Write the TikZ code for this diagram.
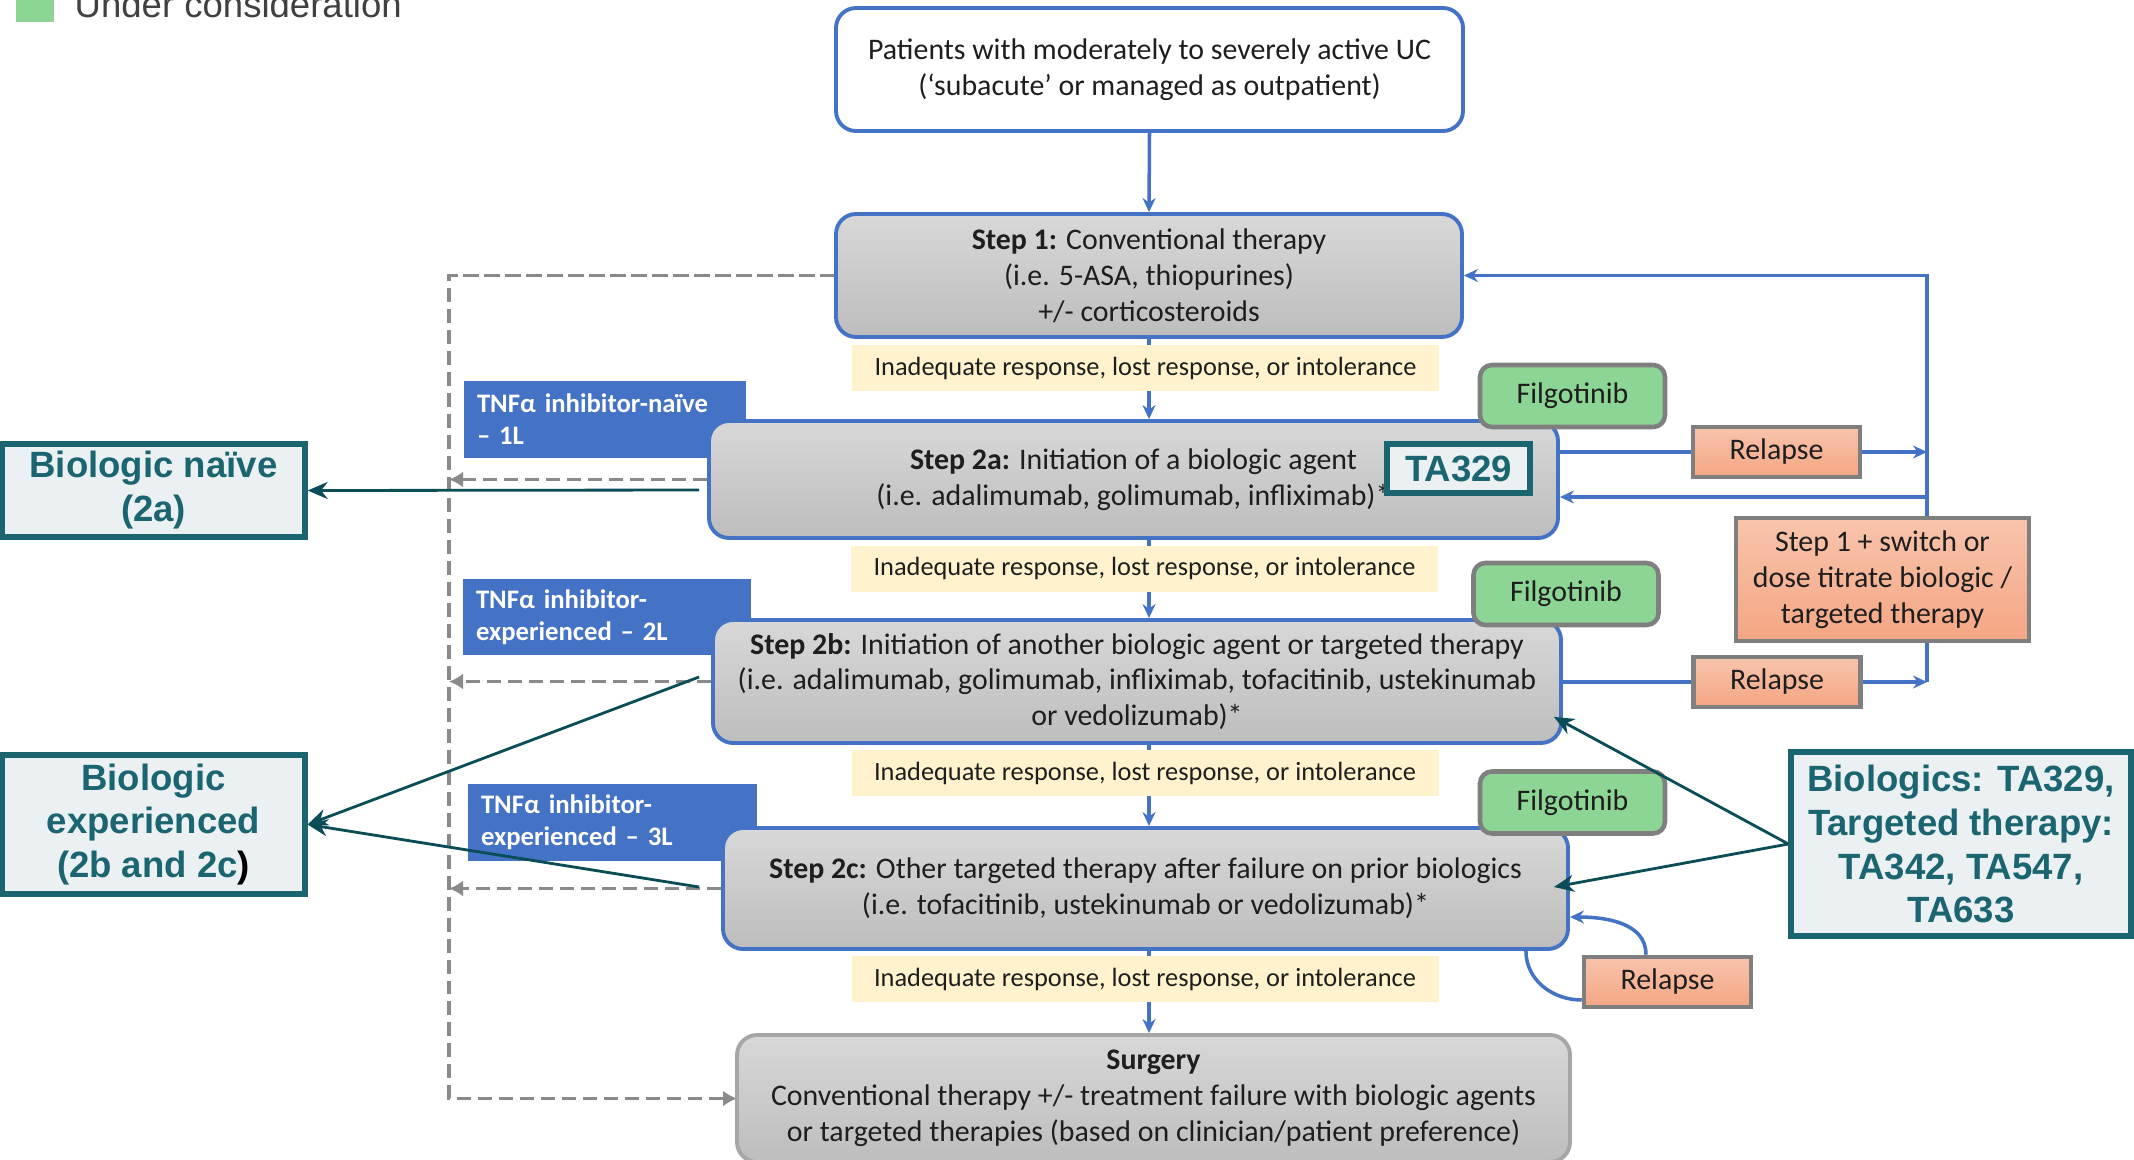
\documentclass[tikz,border=0pt]{standalone}
\usepackage{fontspec}
\setmainfont{Carlito}
\newfontfamily\arialfont{Liberation Sans}
\usetikzlibrary{arrows.meta}

\definecolor{ucblue}{HTML}{4472C4}
\definecolor{stepgraytop}{HTML}{D8D8D8}
\definecolor{stepgraybot}{HTML}{BDBDBD}
\definecolor{surgerygray}{HTML}{A6A6A6}
\definecolor{respyellow}{HTML}{FFF2CC}
\definecolor{filggreen}{HTML}{8DD594}
\definecolor{boxgray}{HTML}{7F7F7F}
\definecolor{relapsetop}{HTML}{F8C4AC}
\definecolor{relapsebot}{HTML}{F4A683}
\definecolor{tateal}{HTML}{1A6570}
\definecolor{tafill}{HTML}{EBF0F2}
\definecolor{taarrow}{HTML}{0B4D57}
\definecolor{dashgray}{HTML}{8A8A8A}
\definecolor{legendtext}{HTML}{404040}
\definecolor{bodytext}{HTML}{1E1E1E}

\begin{document}
\begin{tikzpicture}[x=0.1mm,y=-0.1mm]

    \tikzset{
      stepbox/.style={
        draw=ucblue,
        line width=1.1pt,
        rounded corners=2mm,
        top color=stepgraytop,
        bottom color=stepgraybot,
        align=center,
        text=bodytext,
        inner sep=0pt,
        font=\fontsize{8.5}{10.2}\selectfont,
      },
      topbox/.style={stepbox, fill=white, top color=white, bottom color=white},
      respbox/.style={
        fill=respyellow,
        text=bodytext,
        inner sep=0pt,
        minimum width=58.7mm,
        minimum height=4.6mm,
        font=\fontsize{7.5}{9}\selectfont,
      },
      tnfbox/.style={
        fill=ucblue,
        text=white,
        align=left,
        inner xsep=1.3mm,
        inner ysep=0pt,
        font=\bfseries\fontsize{7.6}{9.1}\selectfont,
      },
      filgbox/.style={
        draw=boxgray,
        line width=1.3pt,
        fill=filggreen,
        rounded corners=1.2mm,
        text=bodytext,
        minimum width=18.5mm,
        minimum height=6.2mm,
        font=\fontsize{8.5}{10.2}\selectfont,
      },
      relapsebox/.style={
        draw=boxgray,
        line width=1.3pt,
        top color=relapsetop,
        bottom color=relapsebot,
        text=bodytext,
        align=center,
        inner sep=0pt,
        minimum width=16.7mm,
        minimum height=5mm,
        font=\fontsize{8.5}{10.2}\selectfont,
      },
      tabox/.style={
        draw=tateal,
        line width=1.5pt,
        fill=tafill,
        text=tateal,
        align=center,
        inner sep=0pt,
        font=\arialfont\bfseries\fontsize{10.4}{12.5}\selectfont,
      },
      bluearrow/.style={draw=ucblue, line width=1pt, -{Stealth[length=1.4mm,width=1.3mm]}},
      blueline/.style={draw=ucblue, line width=1pt},
      dashline/.style={draw=dashgray, line width=1.1pt, dash pattern=on 1.4mm off 0.7mm},
      dasharrow/.style={dashline, -{Latex[length=1.4mm,width=1.6mm]}},
      tarrow/.style={draw=taarrow, line width=0.8pt, -{Stealth[length=2mm,width=1.7mm]}},
    }

    \useasboundingbox (0,0) rectangle (2134,1159);

    % legend
    \fill[filggreen] (16,-16) rectangle (54,22);
    \node[anchor=base west, inner sep=0pt, text=legendtext, font=\arialfont\fontsize{10.4}{12.5}\selectfont] (legend) at (74,17) {Under consideration};

    % dashed return path
    \coordinate (dashtop) at (449,275.5);
    \coordinate (dashbot) at (449,1098.5);
    \draw[dasharrow] (836,275.5) -- (dashtop) -- (dashbot) -- (737,1098.5);

    % line of therapy
    \node[tnfbox, minimum width=28.2mm, minimum height=7.7mm, text width=25.6mm] (tnf1) at (605,419.5) {TNFα inhibitor-naïve\\– 1L};
    \node[tnfbox, minimum width=28.8mm, minimum height=7.6mm, text width=26.2mm] (tnf2) at (607,617) {TNFα inhibitor-\\experienced – 2L};
    \node[tnfbox, minimum width=28.9mm, minimum height=7.7mm, text width=26.3mm] (tnf3) at (612.5,822.5) {TNFα inhibitor-\\experienced – 3L};

    \node[topbox, minimum width=62.7mm, minimum height=12.3mm] (patients) at (1149.5,69.5) {Patients with moderately to severely active UC\\(‘subacute’ or managed as outpatient)};
    \node[stepbox, minimum width=62.6mm, minimum height=12.3mm] (step1) at (1149,275.5) {\textbf{Step 1:} Conventional therapy\\(i.e. 5-ASA, thiopurines)\\+/- corticosteroids};
    \node[stepbox, minimum width=84.9mm, minimum height=11.7mm] (step2a) at (1133.5,479.5) {\textbf{Step 2a:} Initiation of a biologic agent\\(i.e. adalimumab, golimumab, infliximab)*};
    \node[stepbox, minimum width=84.8mm, minimum height=12.3mm] (step2b) at (1137,681.5) {\textbf{Step 2b:} Initiation of another biologic agent or targeted therapy\\(i.e. adalimumab, golimumab, infliximab, tofacitinib, ustekinumab\\or vedolizumab)*};
    \node[stepbox, minimum width=84.5mm, minimum height=12.1mm] (step2c) at (1145.5,888.5) {\textbf{Step 2c:} Other targeted therapy after failure on prior biologics\\(i.e. tofacitinib, ustekinumab or vedolizumab)*};
    \node[stepbox, draw=surgerygray, minimum width=83.3mm, minimum height=12.7mm] (surgery) at (1153.5,1098.5) {\textbf{Surgery}\\Conventional therapy +/- treatment failure with biologic agents\\or targeted therapies (based on clinician/patient preference)};

    \draw[dashline] (step1.west) -- (dashtop);
    \draw[dasharrow] (step2a.west) -- (step2a.west -| dashtop);
    \draw[dasharrow] (step2b.west) -- (step2b.west -| dashtop);
    \draw[dasharrow] (step2c.west) -- (step2c.west -| dashtop);

    \draw[bluearrow] (patients.south) -- (step1.north);
    \draw[bluearrow] (step1.south) -- (step1.south |- step2a.north);
    \draw[bluearrow] (step1.south |- step2a.south) -- (step1.south |- step2b.north);
    \draw[bluearrow] (step1.south |- step2b.south) -- (step1.south |- step2c.north);
    \draw[bluearrow] (step1.south |- step2c.south) -- (step1.south |- surgery.north);

    \node[respbox] (resp1) at (1145.5,368) {Inadequate response, lost response, or intolerance};
    \node[respbox] (resp2) at (1144.5,568.5) {Inadequate response, lost response, or intolerance};
    \node[respbox] (resp3) at (1145,773) {Inadequate response, lost response, or intolerance};
    \node[respbox] (resp4) at (1145,979) {Inadequate response, lost response, or intolerance};

    % relapse loops
    \coordinate (railtop) at (1927,275.5);
    \coordinate (railmid) at (1927,497);
    \coordinate (railbot) at (1927,682);

    \node[relapsebox] (relapse1) at (1776.5,452) {Relapse};
    \node[relapsebox] (relapse2) at (1777,682) {Relapse};
    \node[relapsebox] (relapse3) at (1667.5,982) {Relapse};

    \draw[bluearrow] (railbot) -- (railtop) -- (step1.east);
    \draw[blueline] (step2a.east |- relapse1.west) -- (relapse1.west);
    \draw[bluearrow] (relapse1.east) -- (relapse1.east -| railtop);
    \draw[bluearrow] (railmid) -- (railmid -| step2a.east);
    \draw[blueline] (step2b.east |- relapse2.west) -- (relapse2.west);
    \draw[bluearrow] (relapse2.east) -- (railbot);
    \draw[blueline] ([xshift=-4.4mm]step2c.south east) to[out=-90,in=180] ([yshift=-1.8mm]relapse3.west);
    \draw[bluearrow] ([xshift=-2.15mm]relapse3.north) to[out=90,in=0] ([yshift=-2.85mm]step2c.east);

    \node[relapsebox, minimum width=29.3mm, minimum height=12.3mm] (switch) at (1882.5,579.5) {Step 1 + switch or\\dose titrate biologic /\\targeted therapy};

    \node[filgbox] (filgo1) at (1572.5,396) {Filgotinib};
    \node[filgbox] (filgo2) at (1566,594) {Filgotinib};
    \node[filgbox] (filgo3) at (1572.5,802.5) {Filgotinib};

    % appraisals
    \node[tabox, minimum width=14.3mm, minimum height=4.9mm] (ta329) at (1458.5,468.5) {TA329};
    \node[tabox, minimum width=30.3mm, minimum height=9.3mm] (naive) at (153.5,490.5) {Biologic naïve\\(2a)};
    \node[tabox, minimum width=30.3mm, minimum height=13.9mm] (exper) at (153.5,824.5) {Biologic\\experienced\\(2b and 2c{\color{black})}};
    \node[tabox, minimum width=34mm, minimum height=18.4mm] (biol) at (1961,844) {Biologics: TA329,\\Targeted therapy:\\TA342, TA547,\\TA633};

    \draw[tarrow] ([shift={(-8,10.5)}]step2a.west) -- (naive.east);
    \draw[tarrow] ([shift={(-12,-4.5)}]step2b.west) -- (exper.east);
    \draw[tarrow] ([shift={(-22,-1.5)}]step2c.west) -- (exper.east);
    \draw[tarrow] (biol.west) -- ([shift={(-9,-28)}]step2b.south east);
    \draw[tarrow] (biol.west) -- ([shift={(-16,-1.5)}]step2c.east);

\end{tikzpicture}
\end{document}
